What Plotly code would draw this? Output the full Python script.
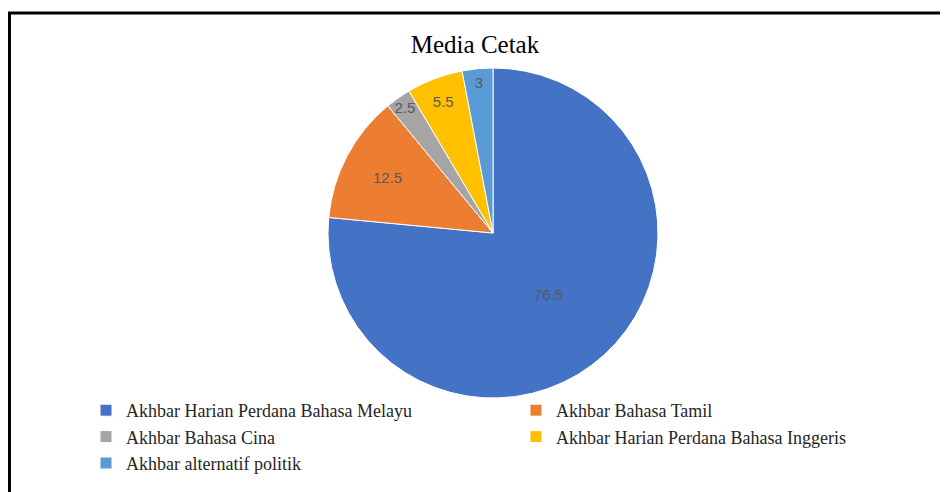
import plotly.graph_objects as go

categories = [
    "Akhbar Harian Perdana Bahasa Melayu",
    "Akhbar Bahasa Tamil",
    "Akhbar Bahasa Cina",
    "Akhbar Harian Perdana Bahasa Inggeris",
    "Akhbar alternatif politik",
]
values = [76.5, 12.5, 2.5, 5.5, 3]
colors = ["#4472C4", "#ED7D31", "#A5A5A5", "#FFC000", "#5B9BD5"]

# page has an 8px body margin; the figure fills the rest of the 948x492 window
OFF = 8
W, H = 948 - OFF, 492 - OFF


def px(x):
    return (x - OFF) / W


def py(y):
    return 1 - (y - OFF) / H


fig = go.Figure(
    go.Pie(
        labels=categories,
        values=values,
        sort=False,
        direction="clockwise",
        rotation=0,
        marker=dict(colors=colors, line=dict(color="white", width=1)),
        textinfo="value",
        textposition="inside",
        insidetextorientation="horizontal",
        textfont=dict(family="Liberation Sans, Arial, sans-serif", size=15, color="#595959"),
        hoverinfo="label+value",
        domain=dict(x=[px(493 - 200), px(493 + 200)], y=[py(398), py(68)]),
    )
)

fig.update_layout(
    width=W,
    height=H,
    margin=dict(l=0, r=0, t=0, b=0, autoexpand=False),
    paper_bgcolor="white",
    plot_bgcolor="white",
    title=dict(
        text="Media Cetak",
        x=px(475),
        xanchor="center",
        y=py(44),
        yanchor="middle",
        font=dict(family="Liberation Serif, Times New Roman, serif", size=25, color="#000000"),
    ),
    uniformtext=dict(minsize=14, mode="show"),
    legend=dict(
        orientation="h",
        x=px(86),
        xanchor="left",
        y=py(392),
        yanchor="top",
        entrywidth=385,
        entrywidthmode="pixels",
        font=dict(family="Liberation Serif, Times New Roman, serif", size=18, color="#262626"),
        itemwidth=30,
        bgcolor="rgba(0,0,0,0)",
    ),
    shapes=[
        dict(type="line", xref="paper", yref="paper",
             x0=px(8), x1=1, y0=py(13), y1=py(13),
             line=dict(color="black", width=3)),
        dict(type="line", xref="paper", yref="paper",
             x0=px(9.5), x1=px(9.5), y0=0, y1=py(12),
             line=dict(color="black", width=3)),
    ],
)

fig.write_html("out.html")
